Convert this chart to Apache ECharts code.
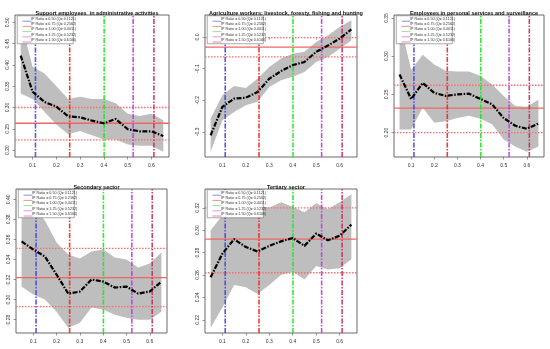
<!DOCTYPE html>
<html><head><meta charset="utf-8">
<script src="https://cdn.jsdelivr.net/npm/echarts@6/dist/echarts.min.js"></script>
<style>html,body{margin:0;padding:0;background:#fff}#c{width:550px;height:349px}</style>
</head><body><div id="c"></div>
<script>
const xVals = [0.05,0.10,0.15,0.20,0.25,0.30,0.35,0.40,0.45,0.50,0.55,0.60,0.65];
const ipNames = ["IP Ratio = 0.50 (Q= 0.1121)","IP Ratio = 0.75 (Q= 0.2562)","IP Ratio = 1.00 (Q= 0.4011)","IP Ratio = 1.25 (Q= 0.5232)","IP Ratio = 1.50 (Q= 0.6106)"];
const ipQ = [0.1121,0.2562,0.4011,0.5232,0.6106];
const titles = ["Support employees  in administrative activities","Agriculture workers: livestock, foresty, fishing and hunting","Employees in personal services and surveillance","Secondary sector","Tertiary sector"];

const p1Mean  = [0.422,0.337,0.313,0.302,0.279,0.277,0.269,0.263,0.273,0.249,0.244,0.244,0.233];
const p1Upper = [0.505,0.396,0.380,0.350,0.320,0.325,0.320,0.320,0.310,0.285,0.280,0.285,0.270];
const p1Lower = [0.333,0.320,0.290,0.260,0.237,0.245,0.235,0.225,0.225,0.213,0.210,0.210,0.196];
const p1H = [0.263,0.300,0.224];

const p2Mean  = [-0.311,-0.221,-0.195,-0.192,-0.174,-0.132,-0.108,-0.089,-0.079,-0.047,-0.027,-0.005,0.024];
const p2Upper = [-0.258,-0.184,-0.155,-0.161,-0.132,-0.095,-0.068,-0.053,-0.047,-0.016,0.005,0.032,0.053];
const p2Lower = [-0.363,-0.263,-0.237,-0.216,-0.205,-0.158,-0.137,-0.126,-0.111,-0.079,-0.063,-0.037,-0.011];
const p2H = [-0.032,-0.002,-0.063];

const p3Mean  = [0.276,0.244,0.265,0.252,0.248,0.250,0.251,0.244,0.237,0.219,0.209,0.205,0.212];
const p3Upper = [0.347,0.282,0.302,0.289,0.281,0.280,0.280,0.274,0.263,0.248,0.235,0.234,0.243];
const p3Lower = [0.204,0.204,0.233,0.213,0.215,0.219,0.222,0.218,0.211,0.191,0.182,0.175,0.182];
const p3H = [0.232,0.262,0.200];

const p4Mean  = [0.358,0.350,0.343,0.325,0.306,0.308,0.320,0.318,0.312,0.313,0.306,0.308,0.318];
const p4Upper = [0.405,0.393,0.379,0.357,0.345,0.341,0.348,0.350,0.342,0.340,0.332,0.336,0.347];
const p4Lower = [0.313,0.305,0.300,0.288,0.272,0.277,0.292,0.290,0.285,0.282,0.280,0.280,0.288];
const p4H = [0.322,0.351,0.293];

const p5Mean  = [0.258,0.279,0.292,0.285,0.281,0.286,0.290,0.293,0.286,0.297,0.291,0.295,0.305];
const p5Upper = [0.300,0.313,0.319,0.321,0.322,0.320,0.325,0.321,0.316,0.324,0.319,0.325,0.332];
const p5Lower = [0.213,0.231,0.251,0.249,0.243,0.251,0.260,0.263,0.256,0.268,0.265,0.266,0.274];
const p5H = [0.292,0.320,0.262];

const yTicks = [
  [0.20,0.25,0.30,0.35,0.40,0.45,0.50],
  [-0.3,-0.2,-0.1,0.0],
  [0.20,0.25,0.30,0.35],
  [0.28,0.30,0.32,0.34,0.36,0.38,0.40],
  [0.22,0.24,0.26,0.28,0.30,0.32]
];
const yDigits = [2,1,2,2,2];
const xTicks = [0.1,0.2,0.3,0.4,0.5,0.6];

const panels = [
  {mean:p1Mean, up:p1Upper, lo:p1Lower, h:p1H},
  {mean:p2Mean, up:p2Upper, lo:p2Lower, h:p2H},
  {mean:p3Mean, up:p3Upper, lo:p3Lower, h:p3H},
  {mean:p4Mean, up:p4Upper, lo:p4Lower, h:p4H},
  {mean:p5Mean, up:p5Upper, lo:p5Lower, h:p5H}
];
const boxes = [
  {l:15, t:15, w:154, h:142},
  {l:205, t:15, w:152, h:142},
  {l:394, t:15, w:150, h:142},
  {l:16, t:189, w:151, h:144},
  {l:205, t:189, w:152, h:144}
];
const ipColors = ['rgba(60,60,230,0.85)','rgba(235,40,40,0.9)','rgba(30,230,30,0.9)','rgba(190,60,225,0.9)','rgba(205,40,95,0.9)'];
const legendColors = ['#7070e0','#f07070','#70e070','#d080e0','#e07090'];

function rng(p){
  const lo = Math.min(...p.lo, ...p.h), hi = Math.max(...p.up, ...p.h);
  const d = (hi-lo)*0.04;
  return [lo-d, hi+d];
}
const xLo = xVals[0]-(xVals[xVals.length-1]-xVals[0])*0.04;
const xHi = xVals[xVals.length-1]+(xVals[xVals.length-1]-xVals[0])*0.04;

const grid=[], xAxis=[], yAxis=[], series=[], title=[], graphic=[];
panels.forEach((p,i)=>{
  const b = boxes[i];
  const r = rng(p);
  grid.push({left:b.l, top:b.t, width:b.w, height:b.h, show:true, borderColor:'#444', borderWidth:0.8, backgroundColor:'transparent', containLabel:false});
  xAxis.push({type:'value', gridIndex:i, min:xLo, max:xHi,
    axisLine:{show:false}, splitLine:{show:false},
    axisTick:{show:true, customValues:xTicks, length:2.5, lineStyle:{color:'#555', width:0.6}},
    axisLabel:{customValues:xTicks, fontSize:5, color:'#333', margin:6, fontFamily:'Liberation Sans', formatter:v=>v.toFixed(1)}});
  yAxis.push({type:'value', gridIndex:i, min:r[0], max:r[1],
    axisLine:{show:false}, splitLine:{show:false},
    axisTick:{show:true, customValues:yTicks[i], length:2.5, lineStyle:{color:'#555', width:0.6}},
    axisLabel:{customValues:yTicks[i], fontSize:5, color:'#333', margin:5, rotate:90, fontFamily:'Liberation Sans', formatter:v=>v.toFixed(yDigits[i])}});
  title.push({text:titles[i], left:b.l+b.w/2, top:b.t-9.5, textAlign:'center',
    textStyle:{fontSize:5.5, fontWeight:'bold', color:'#111', fontFamily:'Liberation Sans'}});
  series.push({type:'custom', xAxisIndex:i, yAxisIndex:i, z:1, silent:true,
    data:[0],
    renderItem:(params, api)=>{
      const pts=[];
      for(let k=0;k<xVals.length;k++) pts.push(api.coord([xVals[k], p.up[k]]));
      for(let k=xVals.length-1;k>=0;k--) pts.push(api.coord([xVals[k], p.lo[k]]));
      return {type:'polygon', shape:{points:pts}, style:{fill:'#bebebe', stroke:null}};
    }});
  p.h.forEach((hv,k)=>{
    series.push({type:'line', xAxisIndex:i, yAxisIndex:i, z:2, silent:true, symbol:'none',
      data:[[xLo,hv],[xHi,hv]],
      lineStyle:{color: k===0 ? '#f26565' : '#ff6a6a', type: k===0 ? 'solid' : [1.5,1.5], width: 1.3}});
  });
  ipQ.forEach((q,k)=>{
    series.push({type:'line', xAxisIndex:i, yAxisIndex:i, z:3, silent:true,
      symbol:'none', data:[[q, r[0]],[q, r[1]]],
      lineStyle:{color:ipColors[k], width:1.6, type:[5,1.5,1.5,1.5]}});
  });
  series.push({type:'line', xAxisIndex:i, yAxisIndex:i, z:4, silent:true, symbol:'none',
    data:xVals.map((x,k)=>[x,p.mean[k]]),
    lineStyle:{color:'#000', width:2.2, type:[5,1.5,1.5,1.5]}});
  const lx = b.l+2, ly = b.t+0.5, lw = 56, rowH = 5.2, lh = rowH*5+2;
  graphic.push({type:'rect', left:lx, top:ly, z:100, shape:{width:lw,height:lh}, style:{fill:'#fff', stroke:'#555', lineWidth:0.5}});
  ipNames.forEach((nm,k)=>{
    const cy = ly+1+rowH*k+rowH/2;
    graphic.push({type:'line', left:lx+3, top:cy-0.4, z:101, shape:{x1:0,y1:0,x2:9,y2:0}, style:{stroke:legendColors[k], lineWidth:0.8}});
    graphic.push({type:'text', left:lx+14, top:cy-2.2, z:101, style:{text:nm, fontSize:3.7, fill:'#333', fontFamily:'Liberation Sans'}});
  });
});

const chart = echarts.init(document.getElementById('c'), null, {renderer:'canvas'});
chart.setOption({animation:false, backgroundColor:'#fff', title, grid, xAxis, yAxis, series, graphic});
</script></body></html>
